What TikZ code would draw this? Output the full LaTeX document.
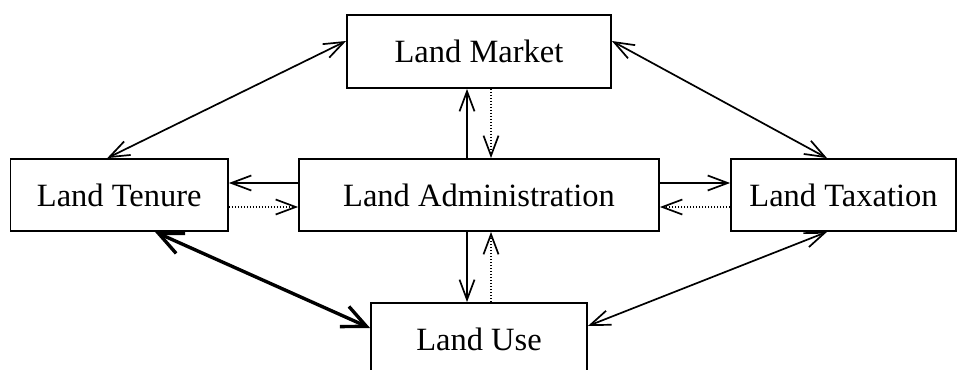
\documentclass[tikz,border=0pt]{standalone}
\usepackage{fontspec}
\setmainfont{Liberation Serif}
\usetikzlibrary{arrows.meta}
\begin{document}
\begin{tikzpicture}[x=1pt,y=-1pt,
  box/.style={draw,line width=1.8pt,inner sep=0pt,font=\fontsize{32.5}{39}\selectfont},
  link/.style={line width=1.7pt,{Straight Barb[length=20pt,width=15pt]}-{Straight Barb[length=20pt,width=15pt]}},
  thicklink/.style={line width=3.4pt,{Straight Barb[length=24pt,width=22pt]}-{Straight Barb[length=24pt,width=22pt]}},
  solidarr/.style={line width=1.7pt,-{Straight Barb[length=20pt,width=15pt]}},
  dotarr/.style={line width=1.2pt,dash pattern=on 1.4pt off 1.6pt,-{Straight Barb[length=20pt,width=15pt,line width=1.7pt]}}
]
\useasboundingbox (0,0) rectangle (957,369);
\node[box,minimum width=264pt,minimum height=73pt] (market) at (479,51.5) {Land Market};
\node[box,minimum width=217.5pt,minimum height=72pt] (tenure) at (119.25,195) {Land Tenure};
\node[box,minimum width=360pt,minimum height=72pt] (admin) at (479,195) {Land Administration};
\node[box,minimum width=225pt,minimum height=72pt] (tax) at (843.5,195) {Land Taxation};
\node[box,minimum width=216pt,minimum height=73pt] (use) at (479,339.5) {Land Use};

\draw[link] ([yshift=10.5pt]market.west) -- ([xshift=-12pt]tenure.north);
\draw[link] ([yshift=10.5pt]market.east) -- ([xshift=-16.5pt]tax.north);
\draw[link] ([xshift=-16.5pt]tax.south) -- ([yshift=13.5pt]use.east);
\draw[thicklink] ([xshift=35.75pt]tenure.south) -- ([yshift=11.5pt]use.west);

\draw[solidarr] ([xshift=-12pt]admin.north) -- ([xshift=-12pt]market.south);
\draw[dotarr] ([xshift=12pt]market.south) -- ([xshift=12pt]admin.north);
\draw[solidarr] ([xshift=-12pt]admin.south) -- ([xshift=-12pt]use.north);
\draw[dotarr] ([xshift=12pt]use.north) -- ([xshift=12pt]admin.south);

\draw[solidarr] ([yshift=12pt]admin.west) -- ([yshift=12pt]tenure.east);
\draw[dotarr] ([yshift=-12pt]tenure.east) -- ([yshift=-12pt]admin.west);
\draw[solidarr] ([yshift=12pt]admin.east) -- ([yshift=12pt]tax.west);
\draw[dotarr] ([yshift=-12pt]tax.west) -- ([yshift=-12pt]admin.east);
\end{tikzpicture}
\end{document}
